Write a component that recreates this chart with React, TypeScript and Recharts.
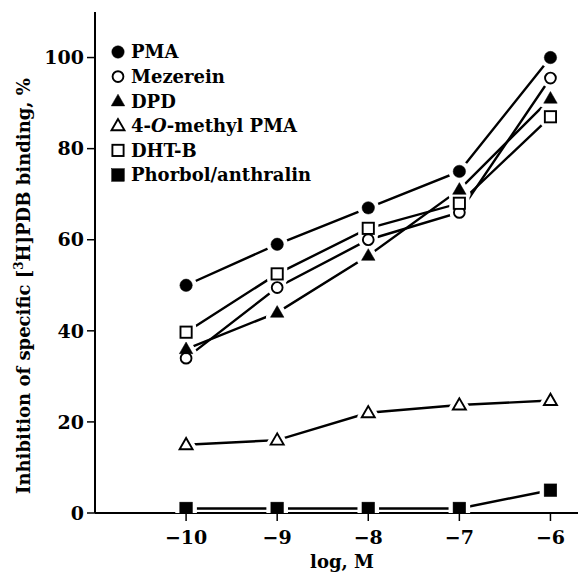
import React from 'react';
import { LineChart, Line, XAxis, YAxis, Legend } from 'recharts';

const logConc = [-10, -9, -8, -7, -6];
const pma = [50, 59, 67, 75, 100];
const mezerein = [34, 49.5, 60, 66, 95.5];
const dpd = [36, 44, 56.5, 71, 91];
const methylPma = [15, 16, 22, 23.7, 24.7];
const dhtb = [39.7, 52.5, 62.5, 68, 87];
const phorbol = [1, 1, 1, 1, 5];
const xTicks = [-10, -9, -8, -7, -6];
const yTicks = [0, 20, 40, 60, 80, 100];

type Shape = 'filledCircle' | 'openCircle' | 'filledTriangle' | 'openTriangle' | 'openSquare' | 'filledSquare';

const seriesList: { key: string; name: string; shape: Shape; values: number[] }[] = [
  { key: 'pma', name: 'PMA', shape: 'filledCircle', values: pma },
  { key: 'mezerein', name: 'Mezerein', shape: 'openCircle', values: mezerein },
  { key: 'dpd', name: 'DPD', shape: 'filledTriangle', values: dpd },
  { key: 'methylPma', name: '4-O-methyl PMA', shape: 'openTriangle', values: methylPma },
  { key: 'dhtb', name: 'DHT-B', shape: 'openSquare', values: dhtb },
  { key: 'phorbol', name: 'Phorbol/anthralin', shape: 'filledSquare', values: phorbol },
];

const data = logConc.map((x, i) => {
  const row: Record<string, number> = { x };
  seriesList.forEach((s) => {
    row[s.key] = s.values[i];
  });
  return row;
});

const FONT = '"DejaVu Serif", serif';

function geom(shape: Shape, cx: number, cy: number, p: Record<string, unknown>) {
  switch (shape) {
    case 'filledCircle':
      return <circle cx={cx} cy={cy} r={6.2} {...p} />;
    case 'openCircle':
      return <circle cx={cx} cy={cy} r={5.4} {...p} />;
    case 'filledTriangle':
    case 'openTriangle': {
      const s = shape === 'filledTriangle' ? 13.5 : 13;
      const h = s * 0.866;
      const pts = `${cx},${cy - h * 0.6} ${cx - s / 2},${cy + h * 0.4} ${cx + s / 2},${cy + h * 0.4}`;
      return <polygon points={pts} {...p} />;
    }
    case 'openSquare':
      return <rect x={cx - 5.6} y={cy - 5.6} width={11.2} height={11.2} {...p} />;
    case 'filledSquare':
      return <rect x={cx - 6.3} y={cy - 6.3} width={12.6} height={12.6} {...p} />;
  }
  return null;
}

function Marker({ shape, cx, cy }: { shape: Shape; cx: number; cy: number }) {
  const open = shape.startsWith('open');
  return geom(
    shape,
    cx,
    cy,
    open ? { fill: '#fff', stroke: '#000', strokeWidth: 1.9 } : { fill: '#000', stroke: '#000', strokeWidth: 0.5 }
  );
}

function Halo({ shape, cx, cy }: { shape: Shape; cx: number; cy: number }) {
  return geom(shape, cx, cy, { fill: '#fff', stroke: '#fff', strokeWidth: 9, strokeLinejoin: 'round' });
}

const fmt = (v: number) => (v < 0 ? '\u2212' + Math.abs(v) : String(v));

function LegendContent() {
  const rowY = [14, 38.6, 63.2, 87.8, 112.4, 137];
  return (
    <svg width={240} height={155} style={{ overflow: 'visible' }}>
      {seriesList.map((s, i) => (
        <g key={s.key}>
          <Marker shape={s.shape} cx={10} cy={rowY[i]} />
          <text x={23} y={rowY[i]} dy="0.36em" fontFamily={FONT} fontWeight="bold" fontSize={18} fill="#000">
            {s.key === 'methylPma' ? (
              <>
                4-<tspan fontStyle="italic">O</tspan>-methyl PMA
              </>
            ) : (
              s.name
            )}
          </text>
        </g>
      ))}
    </svg>
  );
}

function YLabel() {
  return (
    <text
      x={16}
      y={278}
      transform="rotate(-90 16 278)"
      textAnchor="middle"
      dy="0.36em"
      fontFamily={FONT}
      fontWeight="bold"
      fontSize={18}
      fill="#000"
    >
      Inhibition of specific [<tspan fontSize={12} dy={-7}>3</tspan>
      <tspan dy={7}>H]PDB binding, %</tspan>
    </text>
  );
}

function XLabel() {
  return (
    <text x={334} y={560} textAnchor="middle" fontFamily={FONT} fontWeight="bold" fontSize={18} fill="#000">
      log, M
    </text>
  );
}

export default function App() {
  return (
    <div style={{ width: 578, height: 565, overflow: 'hidden', position: 'relative' }}>
      <LineChart width={620} height={565} data={data} margin={{ top: 4, right: 32, left: 0, bottom: 0 }}>
        <XAxis
          xAxisId="top"
          orientation="top"
          type="number"
          dataKey="x"
          domain={[-11, -5.5]}
          allowDataOverflow
          tick={false}
          tickLine={false}
          height={0}
          axisLine={{ stroke: '#000', strokeWidth: 2 }}
        />
        <XAxis
          type="number"
          dataKey="x"
          domain={[-11, -5.5]}
          allowDataOverflow
          ticks={xTicks}
          tickFormatter={fmt}
          height={60}
          tickSize={8}
          tickMargin={10}
          axisLine={{ stroke: '#000', strokeWidth: 2 }}
          tickLine={{ stroke: '#000', strokeWidth: 1.5 }}
          tick={{ fill: '#000', fontFamily: FONT, fontWeight: 'bold', fontSize: 19 }}
          label={<XLabel />}
        />
        <YAxis
          type="number"
          domain={[0, 110]}
          allowDataOverflow
          ticks={yTicks}
          width={87}
          tickSize={8}
          tickMargin={3}
          axisLine={{ stroke: '#000', strokeWidth: 2 }}
          tickLine={{ stroke: '#000', strokeWidth: 1.5 }}
          tick={{ fill: '#000', fontFamily: FONT, fontWeight: 'bold', fontSize: 19 }}
          label={<YLabel />}
        />
        <Legend
          layout="vertical"
          align="center"
          verticalAlign="middle"
          wrapperStyle={{ left: 100, top: 30, width: 240, height: 155 }}
          content={<LegendContent />}
        />
        {seriesList.map((s) => (
          <Line
            key={'l-' + s.key}
            dataKey={s.key}
            stroke="#000"
            strokeWidth={2.4}
            dot={false}
            activeDot={false}
            isAnimationActive={false}
            legendType="none"
          />
        ))}
        {seriesList.map((s) => (
          <Line
            key={'h-' + s.key}
            dataKey={s.key}
            stroke="none"
            activeDot={false}
            isAnimationActive={false}
            legendType="none"
            dot={(props: any) => (
              <Halo key={`h-${s.key}-${props.index}`} shape={s.shape} cx={props.cx} cy={props.cy} />
            )}
          />
        ))}
        {seriesList.map((s) => (
          <Line
            key={'d-' + s.key}
            dataKey={s.key}
            stroke="none"
            activeDot={false}
            isAnimationActive={false}
            legendType="none"
            dot={(props: any) => (
              <Marker key={`d-${s.key}-${props.index}`} shape={s.shape} cx={props.cx} cy={props.cy} />
            )}
          />
        ))}
      </LineChart>
    </div>
  );
}
